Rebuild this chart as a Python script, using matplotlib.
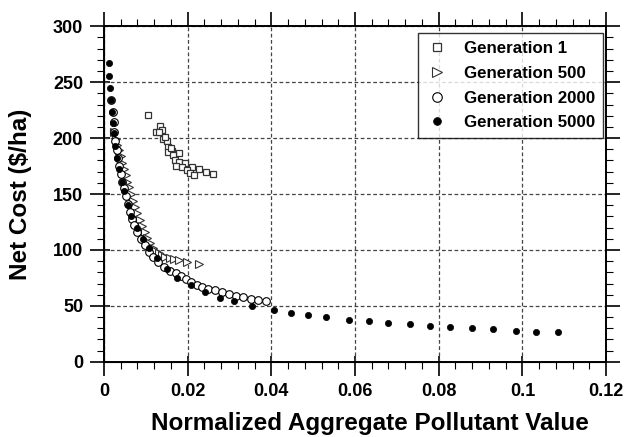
import matplotlib
matplotlib.use("Agg")
import matplotlib.pyplot as plt
from matplotlib.ticker import MultipleLocator

plt.rcParams['font.family'] = ['Liberation Sans', 'DejaVu Sans']
plt.rcParams['font.weight'] = 'bold'

# Generation 1 (carres)
gen1_x = [0.0106, 0.0134, 0.0124, 0.0139, 0.0131, 0.0142, 0.0150, 0.0154, 0.0163, 0.0153,
          0.0179, 0.0166, 0.0170, 0.0180, 0.0194, 0.0172, 0.0187, 0.0210, 0.0198, 0.0228,
          0.0244, 0.0261, 0.0206, 0.0215, 0.0160, 0.0146]
gen1_y = [220.5, 211, 205.6, 207, 205, 198.8, 197.6, 192.2, 188.7, 188,
          186.9, 184.8, 180.4, 178.8, 178, 175, 173.8, 173.8, 171.4, 172,
          170, 167.9, 169, 167.3, 191, 201]

# Generation 500 (triangles)
gen500_x = [0.0024, 0.0028, 0.0032, 0.0036, 0.0040, 0.0044, 0.0048, 0.0052, 0.0056, 0.0060,
            0.0065, 0.0070, 0.0075, 0.0080, 0.0086, 0.0092, 0.0098, 0.0104, 0.0110, 0.0117,
            0.0124, 0.0131, 0.0138, 0.0147, 0.0157, 0.0168, 0.0180, 0.0198, 0.0227]
gen500_y = [205, 199, 194, 189, 184, 178, 172, 167, 161, 156,
            150, 144, 138, 133, 127, 121, 116, 111, 106, 102,
            99, 97, 95.5, 94, 92.8, 91.6, 90.8, 89, 87.5]

# Generation 2000 (cercles vides)
gen2000_x = [0.0018, 0.0021, 0.0023, 0.0025, 0.0027, 0.0030, 0.0033, 0.0036, 0.0040, 0.0044,
             0.0048, 0.0052, 0.0057, 0.0062, 0.0067, 0.0073, 0.0080, 0.0088, 0.0097, 0.0107,
             0.0118, 0.0130, 0.0143, 0.0158, 0.0171, 0.0183, 0.0195, 0.0207, 0.0222, 0.0234,
             0.0249, 0.0265, 0.0283, 0.0300, 0.0316, 0.0332, 0.0351, 0.0369, 0.0387]
gen2000_y = [234, 223, 214, 205, 197, 189, 182, 175, 168, 161,
             155, 148, 141, 134, 128, 122, 116, 110, 104, 98.5,
             93.5, 89, 85, 81.5, 79, 76.8, 74.4, 71.7, 69, 67,
             65.5, 64, 62.2, 60.4, 59.2, 57.7, 56.5, 55.4, 54.8]

# Generation 5000 (cercles pleins)
gen5000_x = [0.0012, 0.0012, 0.00136, 0.00167, 0.0019, 0.00215, 0.00239, 0.0027, 0.00304, 0.0035,
             0.00423, 0.0047, 0.00567, 0.00653, 0.0078, 0.00925, 0.0107, 0.0126, 0.0150, 0.0174,
             0.0207, 0.0241, 0.0277, 0.0311, 0.0355, 0.0407, 0.0446, 0.0488, 0.0531, 0.0586,
             0.0634, 0.0680, 0.0732, 0.0780, 0.0826, 0.0879, 0.0929, 0.0985, 0.1033, 0.1086]
gen5000_y = [267.2, 255.1, 244.9, 234.2, 223.2, 213.7, 204.2, 193.1, 181.9, 172,
             161, 153, 140.2, 130.4, 119.4, 110.1, 101.5, 92.9, 82.8, 75.3,
             68.5, 62.5, 57.4, 54.5, 50, 46.4, 44, 42.2, 40.2, 37.8,
             36.6, 34.8, 33.9, 32.1, 31.5, 30.1, 29.5, 27.9, 27.1, 26.5]

x_ticks = [0, 0.02, 0.04, 0.06, 0.08, 0.1, 0.12]
x_tick_labels = ['0', '0.02', '0.04', '0.06', '0.08', '0.1', '0.12']

fig = plt.figure(figsize=(6.3, 4.37), dpi=100)
ax = fig.add_axes([0.165, 0.172, 0.797, 0.768])

ax.plot(gen1_x, gen1_y, 's', ms=5, mfc='white', mec='#333333', mew=0.9, label='Generation 1')
ax.plot(gen500_x, gen500_y, '>', ms=5.5, mfc='white', mec='#333333', mew=0.8, label='Generation 500')
ax.plot(gen2000_x, gen2000_y, 'o', ms=5.5, mfc='white', mec='black', mew=0.8, label='Generation 2000')
ax.plot(gen5000_x, gen5000_y, 'o', ms=4.5, mfc='black', mec='black', mew=0.5, label='Generation 5000')

ax.set_xlim(0, 0.12)
ax.set_ylim(0, 300)
ax.set_xticks(x_ticks)
ax.set_xticklabels(x_tick_labels)
ax.xaxis.set_minor_locator(MultipleLocator(0.004))
ax.yaxis.set_major_locator(MultipleLocator(50))
ax.yaxis.set_minor_locator(MultipleLocator(10))

ax.grid(True, which='major', linestyle=(0, (3, 2)), color='#444444', linewidth=0.9)

for s in ax.spines.values():
    s.set_linewidth(1.4)

ax.tick_params(which='major', direction='out', length=10, width=1.2, labelsize=13,
               top=True, right=True, pad=5)
ax.tick_params(which='minor', direction='out', length=5, width=0.8, top=True, right=True)

# petits bouts de tick vers l'interieur (gauche et bas)
sx = ax.secondary_xaxis('bottom')
sx.set_xticks(x_ticks)
sx.tick_params(direction='in', length=4.5, width=1.2, labelbottom=False)
sx.xaxis.set_minor_locator(MultipleLocator(1))
sy = ax.secondary_yaxis('left')
sy.yaxis.set_major_locator(MultipleLocator(50))
sy.tick_params(direction='in', length=4.5, width=1.2, labelleft=False)
sy.yaxis.set_minor_locator(MultipleLocator(1000))

ax.set_xlabel('Normalized Aggregate Pollutant Value', fontsize=17.5, fontweight='bold')
ax.set_ylabel('Net Cost ($/ha)', fontsize=17.5, fontweight='bold')
ax.xaxis.set_label_coords(0.53, -0.15)
ax.yaxis.set_label_coords(-0.143, 0.5)

leg = ax.legend(loc='upper right', bbox_to_anchor=(0.994, 0.979), fontsize=12.2,
                frameon=True, fancybox=False, edgecolor='black', borderaxespad=0,
                handletextpad=0.9, labelspacing=0.58, handlelength=1.4, borderpad=0.45,
                markerscale=1.25)
leg.get_frame().set_linewidth(1.0)
for t in leg.get_texts():
    t.set_fontweight('bold')

fig.savefig('out.png', dpi=100)
